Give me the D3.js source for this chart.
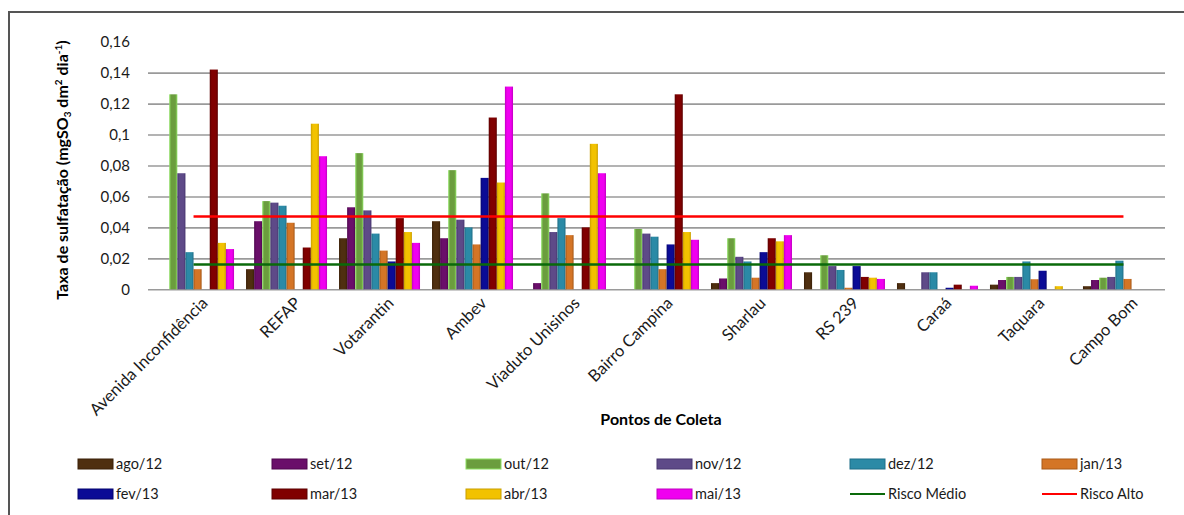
<!DOCTYPE html>
<html>
<head>
<meta charset="utf-8">
<script src="https://cdn.jsdelivr.net/npm/d3@7/dist/d3.min.js"></script>
<style>
	html, body { margin: 0; padding: 0; background: #fff; }
	svg { display: block; font-family: Lato, 'Open Sans', sans-serif; }
	.tick-lbl { font-size: 15px; fill: #1a1a1a; }
	.x-lbl { font-size: 16.5px; fill: #1a1a1a; }
	.leg-lbl { font-size: 14.5px; fill: #1a1a1a; }
	.title { font-size: 16px; font-weight: bold; fill: #000; }
</style>
</head>
<body>
<svg width="1184" height="515"></svg>
<script>
'use strict'

// data
let points = ['Avenida Inconfidência', 'REFAP', 'Votarantin', 'Ambev', 'Viaduto Unisinos',
		'Bairro Campina', 'Sharlau', 'RS 239', 'Caraá', 'Taquara', 'Campo Bom'],
	months = ['ago/12', 'set/12', 'out/12', 'nov/12', 'dez/12', 'jan/13', 'fev/13', 'mar/13', 'abr/13', 'mai/13'],
	ago12 = [0, 0.013, 0.033, 0.044, 0, 0, 0.004, 0.011, 0.004, 0.003, 0.002],
	set12 = [0, 0.044, 0.053, 0.033, 0.004, 0, 0.007, 0, 0, 0.006, 0.006],
	out12 = [0.126, 0.057, 0.088, 0.077, 0.062, 0.039, 0.033, 0.022, 0, 0.008, 0.0075],
	nov12 = [0.075, 0.056, 0.051, 0.045, 0.037, 0.036, 0.021, 0.015, 0.011, 0.008, 0.008],
	dez12 = [0.024, 0.054, 0.036, 0.040, 0.046, 0.034, 0.018, 0.0125, 0.011, 0.018, 0.0185],
	jan13 = [0.013, 0.043, 0.025, 0.029, 0.035, 0.013, 0.0075, 0.001, 0, 0.0065, 0.0067],
	fev13 = [0, 0, 0.018, 0.072, 0, 0.029, 0.024, 0.015, 0.001, 0.012, 0],
	mar13 = [0.142, 0.027, 0.046, 0.111, 0.040, 0.126, 0.033, 0.008, 0.003, 0, 0],
	abr13 = [0.030, 0.107, 0.037, 0.069, 0.094, 0.037, 0.031, 0.0075, 0, 0.002, 0],
	mai13 = [0.026, 0.086, 0.030, 0.131, 0.075, 0.032, 0.035, 0.0067, 0.0023, 0, 0],
	risco_medio = 0.016, risco_alto = 0.047,
	y_ticks = [0, 0.02, 0.04, 0.06, 0.08, 0.1, 0.12, 0.14, 0.16]

let series = [ago12, set12, out12, nov12, dez12, jan13, fev13, mar13, abr13, mai13],
	colors = ['#4f2f10', '#6a0f6a', '#6b9d3e', '#5e4a88', '#2b8aa6', '#d47526',
		'#0b0b96', '#800000', '#f2c200', '#f000f0'],
	edges = ['#3a2008', '#4e064e', '#8ee062', '#483670', '#1f6f88', '#a85a18',
		'#05056e', '#5c0000', '#c89e00', '#c000c0']

let svg = d3.select('svg'),
	x0 = d3.scaleBand().domain(points).range([147, 1170]).paddingInner(0.129).paddingOuter(0.065),
	x1 = d3.scaleBand().domain(months).range([0, x0.bandwidth()]),
	y = d3.scaleLinear().domain([0, 0.16]).range([289.3, 41.7]),
	fmt = v => String(+v.toFixed(2)).replace('.', ',')

// gradients for bar bevel look
let defs = svg.append('defs')
months.forEach((m, i) => {
	let g = defs.append('linearGradient').attr('id', `g${i}`)
		.attr('x1', 0).attr('x2', 1).attr('y1', 0).attr('y2', 0)
	;[[0, edges[i]], [0.25, colors[i]], [0.75, colors[i]], [1, edges[i]]]
		.forEach(([o, c]) => g.append('stop').attr('offset', o).attr('stop-color', c))
})

// frame
svg.append('path').attr('d', 'M9,515V12H1184')
	.attr('fill', 'none').attr('stroke', '#555').attr('stroke-width', 2)

// grid
svg.append('g').attr('transform', 'translate(148 0)')
	.call(d3.axisLeft(y).tickValues(y_ticks.slice(0, -1)).tickSize(-1017).tickFormat(''))
	.call(s => s.select('.domain').remove())
	.call(s => s.selectAll('.tick line').attr('stroke', '#9a9a9a').attr('stroke-width', 1.6))

// y tick labels
svg.append('g').selectAll('text').data(y_ticks).join('text')
	.attr('class', 'tick-lbl').attr('x', 130).attr('y', d => y(d)).attr('dy', '0.35em')
	.attr('text-anchor', 'end').text(fmt)

// bars
svg.append('g').selectAll('g').data(series).join('g')
	.attr('fill', (d, i) => `url(#g${i})`)
	.each(function(vals, i) {
		d3.select(this).selectAll('rect').data(vals.map((v, j) => [points[j], v])).join('rect')
			.attr('x', d => x0(d[0]) + x1(months[i]))
			.attr('width', x1.bandwidth())
			.attr('y', d => y(d[1]))
			.attr('height', d => y(0) - y(d[1]))
	})

// risk lines
let rl = [[risco_medio, '#0a6a0a'], [risco_alto, '#ff0000']]
svg.append('g').selectAll('line').data(rl).join('line')
	.attr('x1', x0(points[0]) + x0.bandwidth() / 2)
	.attr('x2', x0(points[points.length - 1]) + x0.bandwidth() / 2)
	.attr('y1', d => y(d[0])).attr('y2', d => y(d[0]))
	.attr('stroke', d => d[1]).attr('stroke-width', 2.5)

// x labels
svg.append('g').selectAll('text').data(points).join('text')
	.attr('class', 'x-lbl')
	.attr('transform', d => `translate(${x0(d) + x0.bandwidth() / 2 + 7} 296) rotate(-45)`)
	.attr('text-anchor', 'end').attr('dy', '0.7em').text(d => d)

// axis titles
svg.append('text').attr('class', 'title')
	.attr('transform', 'translate(68 170) rotate(-90)').attr('text-anchor', 'middle')
	.call(t => {
		t.append('tspan').text('Taxa de sulfatação  (mgSO')
		t.append('tspan').attr('font-size', 10).attr('dy', 3).text('3')
		t.append('tspan').attr('dy', -3).text(' dm')
		t.append('tspan').attr('font-size', 10).attr('dy', -6).text('2')
		t.append('tspan').attr('dy', 6).text(' dia')
		t.append('tspan').attr('font-size', 10).attr('dy', -6).text('-1')
		t.append('tspan').attr('dy', 6).text(')')
	})
svg.append('text').attr('class', 'title').attr('x', 661).attr('y', 425)
	.attr('text-anchor', 'middle').text('Pontos de Coleta')

// legend
let leg_x = [78, 272, 466, 657, 850, 1042],
	leg_items = months.map((m, i) => ({label: m, i: i}))
		.concat([{label: 'Risco Médio', line: rl[0][1]}, {label: 'Risco Alto', line: rl[1][1]}])
svg.append('g').selectAll('g').data(leg_items).join('g')
	.attr('transform', (d, n) => `translate(${leg_x[n % 6]} ${n < 6 ? 464 : 494})`)
	.each(function(d) {
		let g = d3.select(this)
		if (d.line) g.append('line').attr('x1', 0).attr('x2', 35)
			.attr('stroke', d.line).attr('stroke-width', 2)
		else g.append('rect').attr('y', -5).attr('width', 35).attr('height', 10)
			.attr('fill', colors[d.i]).attr('stroke', edges[d.i]).attr('stroke-width', 1)
		g.append('text').attr('class', 'leg-lbl').attr('x', 38).attr('dy', '0.35em').text(d.label)
	})
</script>
</body>
</html>
